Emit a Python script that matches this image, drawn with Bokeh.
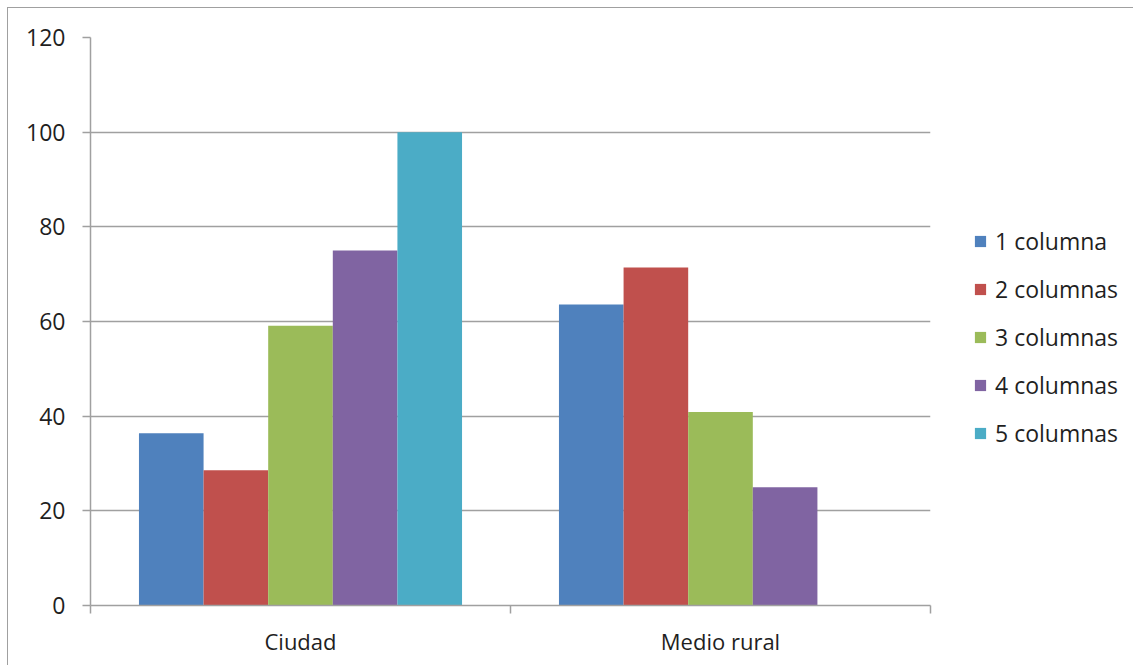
from bokeh.plotting import figure
from bokeh.layouts import row
from bokeh.models import Range1d, FixedTicker, Legend, LegendItem
from bokeh.embed import file_html
from bokeh.resources import INLINE

categories = ["Ciudad", "Medio rural"]
series_names = ["1 columna", "2 columnas", "3 columnas", "4 columnas", "5 columnas"]
colors = ["#4F81BD", "#C0504D", "#9BBB59", "#8064A2", "#4BACC6"]
col1 = [36.4, 63.6]
col2 = [28.6, 71.4]
col3 = [59.1, 40.9]
col4 = [75.0, 25.0]
col5 = [100.0, 0.0]
series_values = [col1, col2, col3, col4, col5]
y_ticks = [0, 20, 40, 60, 80, 100, 120]

FONT = "Open Sans"
GRID = "#a0a0a0"
TEXT = "#1f1f1f"

# main chart
p = figure(width=930, height=657, output_backend="svg", toolbar_location=None,
           x_range=Range1d(0, len(categories)), y_range=Range1d(0, 120),
           min_border_left=82, min_border_right=8, min_border_top=29,
           min_border_bottom=60)
p.outline_line_color = None
p.background_fill_color = "white"
p.border_fill_color = "white"

n = len(series_names)
w = 1.0 / (n + 1.5)
for j, (vals, col) in enumerate(zip(series_values, colors)):
    xs = [i + 0.5 + (j - (n - 1) / 2) * w for i in range(len(categories))]
    p.vbar(x=xs, top=vals, width=w, bottom=0, fill_color=col, line_color=None)

# x axis
p.xaxis.ticker = FixedTicker(ticks=[i + 0.5 for i in range(len(categories))],
                             minor_ticks=list(range(len(categories) + 1)))
p.xaxis.major_label_overrides = {i + 0.5: c for i, c in enumerate(categories)}
p.xaxis.major_tick_out = 0
p.xaxis.major_tick_in = 0
p.xaxis.minor_tick_out = 8
p.xaxis.minor_tick_in = 0
p.xaxis.minor_tick_line_color = GRID
p.xaxis.minor_tick_line_width = 1.5
p.xaxis.axis_line_color = GRID
p.xaxis.axis_line_width = 1.5
p.xaxis.major_label_standoff = 12
p.xaxis.major_label_text_font = FONT
p.xaxis.major_label_text_font_size = "22px"
p.xaxis.major_label_text_color = TEXT
p.xgrid.visible = False

# y axis
p.yaxis.ticker = FixedTicker(ticks=y_ticks)
p.yaxis.major_tick_out = 8
p.yaxis.major_tick_in = 0
p.yaxis.major_tick_line_color = GRID
p.yaxis.major_tick_line_width = 1.5
p.yaxis.minor_tick_line_color = None
p.yaxis.axis_line_color = GRID
p.yaxis.axis_line_width = 1.5
p.yaxis.major_label_standoff = 17
p.yaxis.major_label_text_font = FONT
p.yaxis.major_label_text_font_size = "23px"
p.yaxis.major_label_text_color = TEXT
p.ygrid.grid_line_color = GRID
p.ygrid.grid_line_width = 1.5

# legend panel (legend keys only, no visible marks)
q = figure(width=195, height=657, output_backend="svg", toolbar_location=None,
           x_range=Range1d(0, 1), y_range=Range1d(0, 1),
           x_axis_type=None, y_axis_type=None, min_border=0)
q.outline_line_color = None
q.grid.visible = False
q.background_fill_color = "white"
q.border_fill_color = "white"
nan = float("nan")
keys = []
for col in colors:
    keys.append(q.vbar(x=[nan], top=[nan], width=0.1, fill_color=col, line_color=None))

legend = Legend(items=[LegendItem(label=nm, renderers=[r]) for nm, r in zip(series_names, keys)],
                location=(35, 156), orientation="vertical",
                glyph_width=14, glyph_height=14, label_standoff=8,
                label_text_font=FONT, label_text_font_size="23px", label_text_color=TEXT,
                label_height=32, spacing=16, padding=0, margin=0,
                border_line_alpha=0, background_fill_alpha=0)
q.add_layout(legend, "center")

layout = row(p, q, spacing=0)
layout.styles = {"margin-left": "7px", "margin-top": "7px",
                 "border-left": "1px solid #a0a0a0", "border-top": "1px solid #a0a0a0"}

open("out.html", "w").write(file_html(layout, INLINE))
